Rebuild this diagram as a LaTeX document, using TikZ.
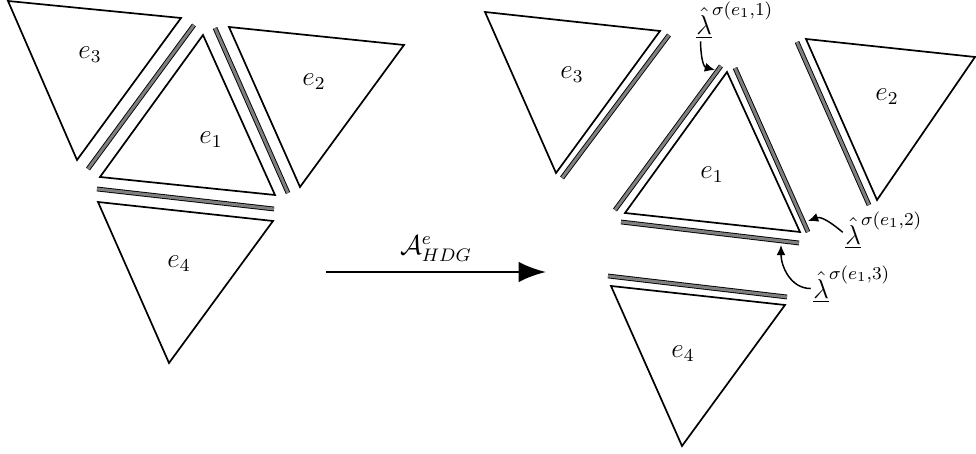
\documentclass[tikz,border=0pt]{standalone}
\usetikzlibrary{arrows.meta}
\tikzset{
  tri/.style={draw=black, line width=0.75pt, line join=miter},
  bar/.style={draw=black, line width=0.4pt, double=gray, double distance=1.3pt},
  lbl/.style={inner sep=0pt, font=\large},
  pointer/.style={-{Latex[length=4.5pt,width=4pt]}, line width=0.65pt},
  mainarrow/.style={-{Latex[length=12pt,width=9pt]}, line width=1.2pt}
}
\begin{document}
\begin{tikzpicture}[x=0.44pt,y=-0.44pt]
\useasboundingbox (0,0) rectangle (976,454);
% ---------- left mesh ----------
\coordinate (L3a) at (8,1);   \coordinate (L3b) at (181,18);  \coordinate (L3c) at (77,160);
\coordinate (L1a) at (203,35); \coordinate (L1b) at (100,177); \coordinate (L1c) at (275,195);
\coordinate (L2a) at (229,27); \coordinate (L2b) at (404,45);  \coordinate (L2c) at (300,187);
\coordinate (L4a) at (98,202); \coordinate (L4b) at (273,221); \coordinate (L4c) at (169,363);
\draw[tri] (L3a) -- (L3b) -- (L3c) -- cycle;
\draw[tri] (L1a) -- (L1b) -- (L1c) -- cycle;
\draw[tri] (L2a) -- (L2b) -- (L2c) -- cycle;
\draw[tri] (L4a) -- (L4b) -- (L4c) -- cycle;
\coordinate (LB13a) at (88,169);  \coordinate (LB13b) at (194,25);
\coordinate (LB12a) at (215,28);  \coordinate (LB12b) at (288,193);
\coordinate (LB14a) at (97,189);  \coordinate (LB14b) at (274,209);
\draw[bar] (LB13a) -- (LB13b);
\draw[bar] (LB12a) -- (LB12b);
\draw[bar] (LB14a) -- (LB14b);
\node[lbl] (le3) at (90,55) {$e_3$};
\node[lbl] (le1) at (211,140) {$e_1$};
\node[lbl] (le2) at (314,82) {$e_2$};
\node[lbl] (le4) at (179,264) {$e_4$};
% ---------- main arrow ----------
\coordinate (A0) at (326,272);
\coordinate (A1) at (546,272);
\draw[mainarrow] (A0) -- (A1) node[midway, above=4pt, lbl] (op) {$\mathcal{A}^e_{HDG}$};
% ---------- right mesh ----------
\coordinate (R3a) at (485,12);  \coordinate (R3b) at (660,31);  \coordinate (R3c) at (556,173);
\coordinate (R1a) at (727,72);  \coordinate (R1b) at (625,213); \coordinate (R1c) at (800,232);
\coordinate (R2a) at (806,39);  \coordinate (R2b) at (975,57);  \coordinate (R2c) at (877,200);
\coordinate (R4a) at (611,286); \coordinate (R4b) at (785,305); \coordinate (R4c) at (682,446);
\draw[tri] (R3a) -- (R3b) -- (R3c) -- cycle;
\draw[tri] (R1a) -- (R1b) -- (R1c) -- cycle;
\draw[tri] (R2a) -- (R2b) -- (R2c) -- cycle;
\draw[tri] (R4a) -- (R4b) -- (R4c) -- cycle;
\coordinate (RB3a) at (562,178); \coordinate (RB3b) at (669,35);
\coordinate (RB1La) at (615,210); \coordinate (RB1Lb) at (721,66);
\coordinate (RB1Ra) at (735,68); \coordinate (RB1Rb) at (808,232);
\coordinate (RB1Ba) at (621,222); \coordinate (RB1Bb) at (799,243);
\coordinate (RB4a) at (608,276); \coordinate (RB4b) at (787,297);
\coordinate (RB2a) at (797,42); \coordinate (RB2b) at (869,205);
\draw[bar] (RB3a) -- (RB3b);
\draw[bar] (RB1La) -- (RB1Lb);
\draw[bar] (RB1Ra) -- (RB1Rb);
\draw[bar] (RB1Ba) -- (RB1Bb);
\draw[bar] (RB4a) -- (RB4b);
\draw[bar] (RB2a) -- (RB2b);
\node[lbl] (re3) at (572,75) {$e_3$};
\node[lbl] (re1) at (712,175) {$e_1$};
\node[lbl] (re2) at (887,97) {$e_2$};
\node[lbl] (re4) at (683,354) {$e_4$};
% ---------- trace labels ----------
\node[lbl, anchor=west] (lam1) at (696,20) {$\underline{\hat{\lambda}}^{\sigma(e_1,1)}$};
\node[lbl, anchor=west] (lam2) at (845,230) {$\underline{\hat{\lambda}}^{\sigma(e_1,2)}$};
\node[lbl, anchor=west] (lam3) at (813,284) {$\underline{\hat{\lambda}}^{\sigma(e_1,3)}$};
\coordinate (p1e) at (715,70);
\coordinate (p2e) at (808,221);
\coordinate (p3e) at (781,245);
\draw[pointer] ([xshift=2pt,yshift=-1pt]lam1.south west) to[out=-90,in=165] (p1e);
\draw[pointer] ([xshift=-1pt,yshift=-1pt]lam2.west) to[out=140,in=20] (p2e);
\draw[pointer] ([xshift=-1pt,yshift=-2pt]lam3.west) to[out=180,in=-90] (p3e);
\end{tikzpicture}
\end{document}
